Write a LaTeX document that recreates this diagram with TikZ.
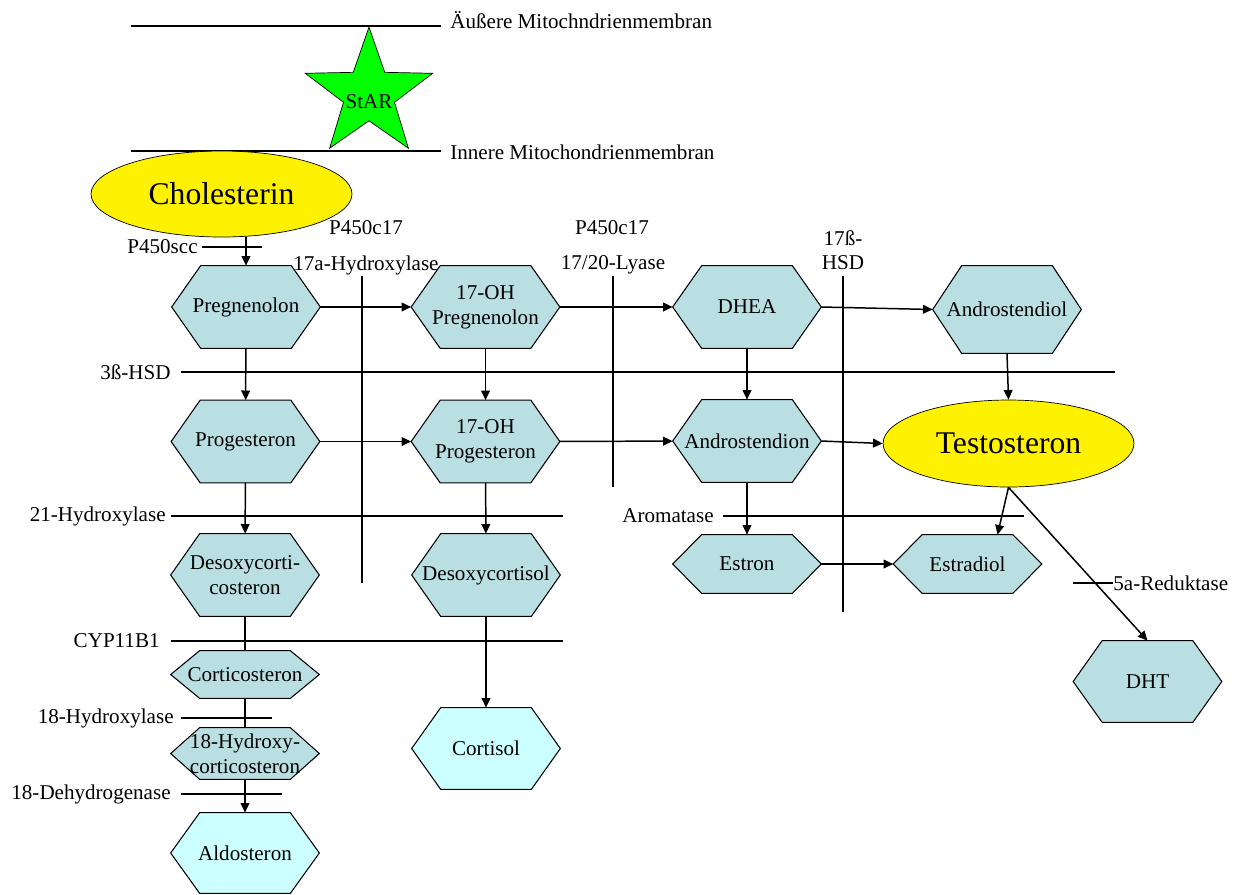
\documentclass[tikz,border=0pt]{standalone}
\usepackage{fontspec}
\setmainfont{Liberation Serif}
\usetikzlibrary{arrows.meta,positioning,shapes.geometric,backgrounds}

\definecolor{hexblue}{RGB}{185,223,227}
\definecolor{hexcyan}{RGB}{204,255,255}

% hexagon behind a named node
\newcommand{\hexfill}[2][hexblue]{%
  \begin{scope}[on background layer]
    \filldraw[fill=#1, draw=black, line width=0.6pt]
      (#2.west) -- ([xshift=0.58cm]#2.north west) -- ([xshift=-0.58cm]#2.north east)
      -- (#2.east) -- ([xshift=-0.58cm]#2.south east) -- ([xshift=0.58cm]#2.south west)
      -- cycle;
  \end{scope}}

\begin{document}
\begin{tikzpicture}[
  x=0.02cm, y=-0.02cm,
  hexbox/.style={minimum width=2.96cm, minimum height=1.64cm, inner sep=0pt,
                 align=center, font=\fontsize{12}{14}\selectfont},
  substance/.style={ellipse, draw, fill=yellow, inner sep=0pt,
                    font=\fontsize{18}{20}\selectfont},
  enzyme/.style={inner sep=0pt, align=center, font=\fontsize{12}{14}\selectfont},
  arr/.style={-{Triangle[length=5.5pt,width=5pt]}, line width=0.85pt},
  memb/.style={line width=0.6pt}
]
\useasboundingbox (0,0) rectangle (1241,894);

% membranes and StAR
\draw[memb] (131,26) -- (441,26);
\draw[memb] (131,151) -- (441,151);
\node[enzyme, anchor=west] (outer) at (450,20) {Äußere Mitochndrienmembran};
\node[enzyme, anchor=west] (inner) at (450,152) {Innere Mitochondrienmembran};
\node[star, star points=5, star point ratio=2.5, minimum size=2.68cm, inner sep=0pt,
      draw, fill=green, font=\fontsize{12}{14}\selectfont] (star) at (369,94)
  {\makebox[0pt]{\raisebox{-8.5pt}[0pt][0pt]{StAR}}};

% enzyme lines
\draw[memb] (202,247) -- (262,247);
\draw[memb] (181,372) -- (1115,372);
\draw[memb] (171,516) -- (563,516);
\draw[memb] (723,516) -- (1024,516);
\draw[memb] (171,641) -- (563,641);
\draw[memb] (181,718) -- (272,718);
\draw[memb] (181,794) -- (282,794);
\draw[memb] (1073,583) -- (1113,583);
\draw[memb] (362,276) -- (362,583);
\draw[memb] (613,276) -- (613,487);
\draw[memb] (843,276) -- (843,612);

\node[enzyme, anchor=east] (scc) at (198,247) {P450scc};
\node[enzyme] (c17a) at (366,228) {P450c17};
\node[enzyme] (hydr17) at (366,265) {17a-Hydroxylase};
\node[enzyme] (c17b) at (612,228) {P450c17};
\node[enzyme] (lyase) at (613,265) {17/20-Lyase};
\node[enzyme] (hsd17) at (843,250) {17ß-\\HSD};
\node[enzyme, anchor=east] (hsd3) at (171,372) {3ß-HSD};
\node[enzyme, anchor=east] (hydr21) at (166,516) {21-Hydroxylase};
\node[enzyme, anchor=east] (arom) at (714,516) {Aromatase};
\node[enzyme, anchor=east] (cyp) at (160,641) {CYP11B1};
\node[enzyme, anchor=east] (hydr18) at (174,718) {18-Hydroxylase};
\node[enzyme, anchor=east] (dehyd18) at (171,794) {18-Dehydrogenase};
\node[enzyme, anchor=west] (red5) at (1113,583) {5a-Reduktase};

% substances
\node[substance, minimum width=5.22cm, minimum height=1.72cm] (chol) at (221.5,194) {Cholesterin};
\node[substance, minimum width=5.02cm, minimum height=1.74cm] (testo) at (1008.5,443.5) {Testosteron};

\node[hexbox] (preg) at (246,307) {Pregnenolon}; \hexfill{preg}
\node[hexbox] (ohpreg) at (485.5,307) {17-OH\\Pregnenolon}; \hexfill{ohpreg}
\node[hexbox] (dhea) at (747,307) {DHEA}; \hexfill{dhea}
\node[hexbox, minimum height=1.74cm] (adiol) at (1007,309.5) {Androstendiol}; \hexfill{adiol}
\node[hexbox] (prog) at (245.5,441.5) {Progesteron}; \hexfill{prog}
\node[hexbox] (ohprog) at (485.5,441.5) {17-OH\\Progesteron}; \hexfill{ohprog}
\node[hexbox] (adion) at (747,441) {Androstendion}; \hexfill{adion}
\node[hexbox] (doc) at (245,575) {Desoxycorti-\\costeron}; \hexfill{doc}
\node[hexbox] (dcortisol) at (486,575) {Desoxycortisol}; \hexfill{dcortisol}
\node[hexbox, minimum height=1.16cm] (estron) at (747,564) {Estron}; \hexfill{estron}
\node[hexbox, minimum height=1.16cm] (estradiol) at (967.5,564) {Estradiol}; \hexfill{estradiol}
\node[hexbox, minimum height=0.94cm] (cortico) at (245,674.5) {Corticosteron}; \hexfill{cortico}
\node[hexbox, minimum height=1.02cm] (hcortico) at (245,753.5) {18-Hydroxy-\\corticosteron}; \hexfill{hcortico}
\node[hexbox, minimum height=1.6cm] (aldo) at (245,853) {Aldosteron}; \hexfill[hexcyan]{aldo}
\node[hexbox, minimum height=1.62cm] (cortisol) at (486,748.5) {Cortisol}; \hexfill[hexcyan]{cortisol}
\node[hexbox, minimum height=1.62cm] (dht) at (1147.5,681.5) {DHT}; \hexfill{dht}

% conversions
\draw[arr] (preg.north |- chol.south) -- (preg.north);
\draw[arr] (preg) -- (ohpreg);
\draw[arr] (ohpreg) -- (dhea);
\draw[arr] (dhea.east) -- (adiol.west);
\draw[arr] (preg) -- (prog);
\draw[arr] (ohpreg) -- (ohprog);
\draw[arr] (dhea) -- (adion);
\draw[arr] (prog) -- (ohprog);
\draw[arr] (ohprog) -- (adion);
\draw[arr] (adion.east) -- (testo.west);
\draw[arr] (adiol.south) -- (testo.north);
\draw[arr] (prog) -- (doc);
\draw[arr] (ohprog) -- (dcortisol);
\draw[arr] (adion) -- (estron);
\draw[arr] (estron) -- (estradiol);
\draw[arr] (testo.south) -- ([xshift=0.6cm]estradiol.north);
\draw[arr] (testo.south) -- (dht.north);
\draw[memb] (doc) -- (cortico);
\draw[memb] (cortico) -- (hcortico);
\draw[arr] (hcortico) -- (aldo);
\draw[arr] (dcortisol) -- (cortisol);

\end{tikzpicture}
\end{document}
